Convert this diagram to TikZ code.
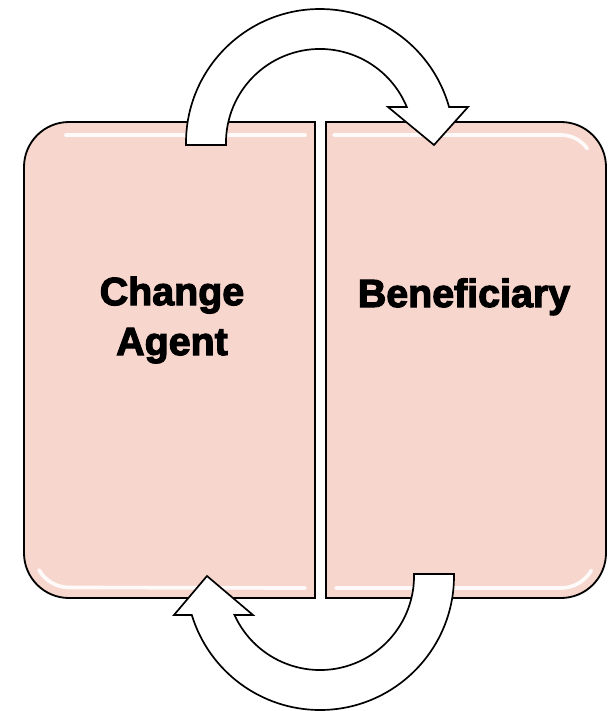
\documentclass[tikz,border=0pt]{standalone}
\usepackage{fontspec}
\newfontfamily\heavyfont{Liberation Sans Bold}[FakeBold=3]
\begin{document}
\begin{tikzpicture}[x=0.025cm, y=-0.025cm,
  box/.style={draw=black, line width=1.3pt, fill=boxpink},
  shine/.style={draw=white, line width=2.6pt, opacity=0.9, line cap=round},
  turn/.style={draw=black, line width=1.2pt, fill=white, line join=miter},
  title/.style={font=\heavyfont\fontsize{28}{35.5}\selectfont, align=center, inner sep=0pt}]

\definecolor{boxpink}{RGB}{247, 214, 205}
\useasboundingbox (0,0) rectangle (608,711);

% Draw the two boxes
\draw[box] (315,122) -- (69,122) arc[start angle=-90, end angle=-180, radius=45] -- (24,553) arc[start angle=180, end angle=90, radius=45] -- (315,598) -- cycle;
\draw[box] (326,122) -- (561,122) arc[start angle=-90, end angle=0, radius=45] -- (606,553) arc[start angle=0, end angle=90, radius=45] -- (326,598) -- cycle;

% Draw the shine lines
\draw[shine] (66,135) -- (305,135);
\draw[shine] (334,135) -- (561,135) arc[start angle=-90, end angle=-35, radius=32];
\draw[shine] (39,570) arc[start angle=150, end angle=90, radius=35] -- (305,588);
\draw[shine] (336,588) -- (561,588) arc[start angle=90, end angle=30, radius=35];

% Draw the curved arrows
\draw[turn] (186,145) -- (186,143) arc[start angle=180, end angle=344.4, radius=134] -- (468,107) -- (434,145) -- (388,107) -- (406.8,107) arc[start angle=337.5, end angle=180, radius=94] -- (226,145) -- cycle; % top
\draw[turn] (454,574) -- (454,576) arc[start angle=0, end angle=163.1, radius=134] -- (174,615) -- (207,576) -- (253,615) -- (234.5,615) arc[start angle=155.5, end angle=0, radius=94] -- (414,574) -- cycle; % bottom

% Draw the labels
\node[title] (agent) at (172,320) {Change\\Agent};
\node[title, anchor=base] (beneficiary) at (464,307) {Beneficiary};

\end{tikzpicture}
\end{document}
